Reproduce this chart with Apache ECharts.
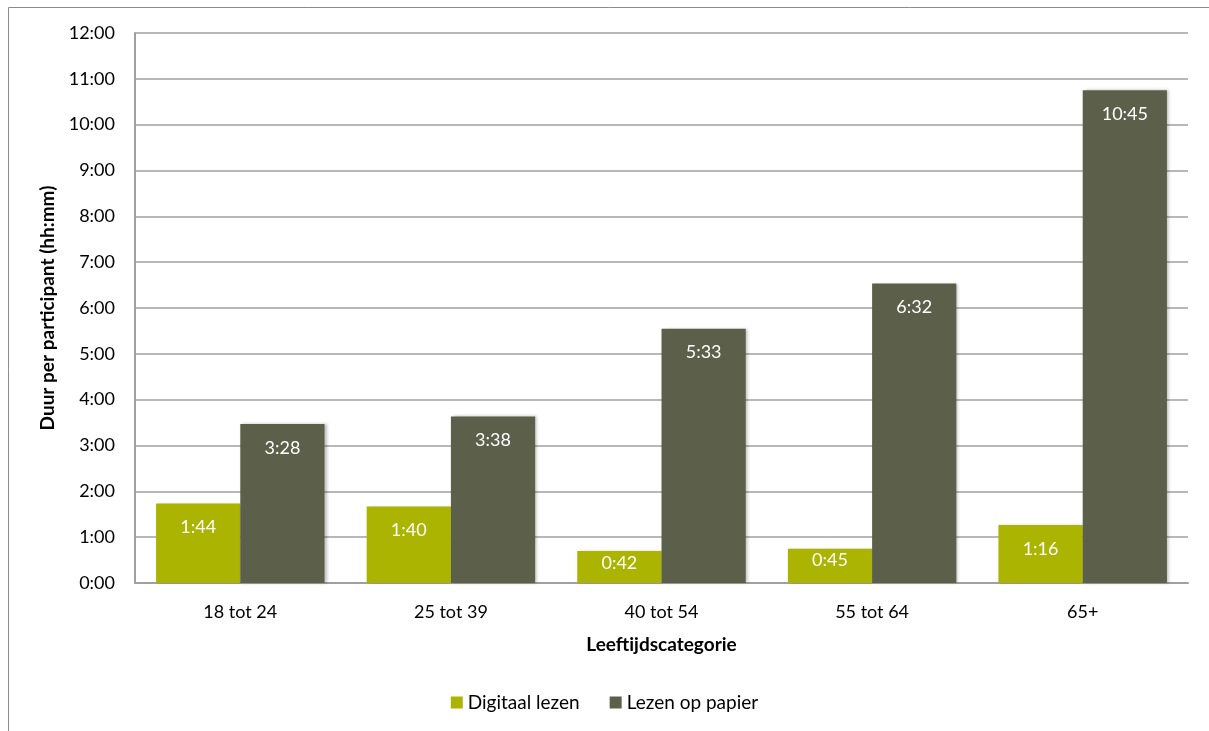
<!DOCTYPE html>
<html>
<head>
<meta charset="utf-8">
<script src="https://cdn.jsdelivr.net/npm/echarts@6/dist/echarts.min.js"></script>
<style>
  html, body { margin: 0; padding: 0; background: #fff; }
  #chart { width: 1209px; height: 731px; }
</style>
</head>
<body>
<div id="chart"></div>
<script>
var categories = ['18 tot 24', '25 tot 39', '40 tot 54', '55 tot 64', '65+'];
// durations in minutes
var digitaal = [104, 100, 42, 45, 76];
var papier = [208, 218, 333, 392, 645];

var font = 'Lato, "Open Sans", sans-serif';

function hhmm(v) {
  var h = Math.floor(v / 60);
  var m = Math.round(v - h * 60);
  return h + ':' + (m < 10 ? '0' + m : m);
}

// short bars keep their label close to the top, like the original
function withLabels(values) {
  return values.map(function(v) {
    return v < 60 ? { value: v, label: { distance: 3 } } : v;
  });
}

var chart = echarts.init(document.getElementById('chart'), null, { renderer: 'canvas' });

var barLabel = {
  show: true,
  position: 'insideTop',
  distance: 15,
  color: '#fff',
  fontSize: 18,
  fontFamily: font,
  formatter: function(p) { return hhmm(p.value); }
};

chart.setOption({
  animation: false,
  textStyle: { fontFamily: font },
  graphic: [{
    type: 'rect',
    shape: { x: 8.5, y: 7.5, width: 1400, height: 900 },
    style: { fill: 'none', stroke: '#8c8c8c', lineWidth: 1 },
    silent: true
  }],
  grid: { left: 135, right: 21, top: 33, bottom: 148 },
  legend: {
    bottom: 14,
    left: 'center',
    itemWidth: 12,
    itemHeight: 12,
    itemGap: 30,
    icon: 'rect',
    textStyle: { fontSize: 19, color: '#000', fontFamily: font },
    data: ['Digitaal lezen', 'Lezen op papier']
  },
  xAxis: {
    type: 'category',
    data: categories,
    name: 'Leeftijdscategorie',
    nameLocation: 'middle',
    nameGap: 52,
    nameTextStyle: { fontSize: 19, fontWeight: 'bold', color: '#000' },
    axisLine: { lineStyle: { color: '#a0a0a0', width: 2 } },
    axisTick: { show: false },
    axisLabel: { fontSize: 18, color: '#000', margin: 20 }
  },
  yAxis: {
    type: 'value',
    min: 0,
    max: 720,
    interval: 60,
    name: 'Duur per participant (hh:mm)',
    nameLocation: 'middle',
    nameGap: 76,
    nameTextStyle: { fontSize: 19, fontWeight: 'bold', color: '#000' },
    axisLine: { show: true, lineStyle: { color: '#a0a0a0', width: 2 } },
    axisTick: { show: false },
    splitLine: { lineStyle: { color: '#a0a0a0', width: 1.5 } },
    axisLabel: { fontSize: 18, color: '#000', margin: 20, formatter: hhmm }
  },
  series: [
    {
      name: 'Digitaal lezen',
      type: 'bar',
      data: withLabels(digitaal),
      barGap: '0%',
      barCategoryGap: '20%',
      itemStyle: { color: '#abb400', shadowColor: 'rgba(0,0,0,0.25)', shadowBlur: 3, shadowOffsetX: 2 },
      label: barLabel
    },
    {
      name: 'Lezen op papier',
      type: 'bar',
      data: withLabels(papier),
      barGap: '0%',
      barCategoryGap: '20%',
      itemStyle: { color: '#5c604a', shadowColor: 'rgba(0,0,0,0.25)', shadowBlur: 3, shadowOffsetX: 2 },
      label: barLabel
    }
  ]
});

window.addEventListener('resize', function() { chart.resize(); });
</script>
</body>
</html>
